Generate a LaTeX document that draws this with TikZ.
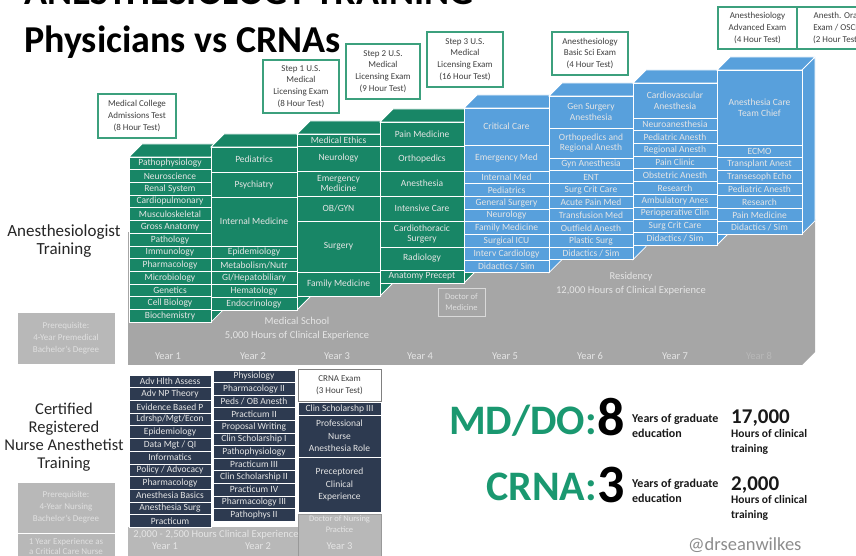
\documentclass[tikz,border=0pt]{standalone}
\usepackage{fontspec}
\setmainfont{Carlito}
\usepackage{xcolor}
\usepackage{tikz}
\usetikzlibrary{positioning}

\definecolor{mdgreen}{RGB}{24,134,102}
\definecolor{resblue}{RGB}{88,160,220}
\definecolor{crnanavy}{RGB}{45,58,80}
\definecolor{basegray}{RGB}{166,166,166}
\definecolor{lightgray}{RGB}{184,184,184}
\definecolor{examteal}{RGB}{60,160,125}
\definecolor{titleteal}{RGB}{26,152,112}
\definecolor{inktext}{RGB}{64,64,64}

% top and right faces of a 3D year block
\newcommand{\blockfaces}[5]{%
  \filldraw[fill=#5, draw=white, line width=0.8pt]
    (#1,#3) -- ++(13,-13) -- ++(#2-#1,0) -- (#2,#3) -- cycle
    (#2,#3) -- ++(13,-13) -- ++(0,#4-#3) -- (#2,#4) -- cycle;}

\tikzset{
  cell/.style={draw=white, line width=0.8pt, text=white!90!black,
    font=\fontsize{9.5}{10.5}\selectfont, align=center, inner sep=0pt},
  mdcell/.style={cell, fill=mdgreen},
  rescell/.style={cell, fill=resblue},
  crnacell/.style={cell, fill=crnanavy},
  exambox/.style={draw=examteal, line width=1.2pt, fill=white, text=inktext,
    font=\fontsize{9}{11.8}\selectfont, align=center, inner sep=1pt},
  ongray/.style={text=white!90!black, font=\fontsize{10.5}{14}\selectfont,
    align=center, inner sep=0pt},
  yearlbl/.style={text=white!90!black, font=\fontsize{10.5}{12}\selectfont, inner sep=0pt},
  prereq/.style={fill=lightgray, draw=white, line width=0.6pt, text=white!88!black,
    font=\fontsize{9}{12}\selectfont, align=center, inner sep=1pt},
  sidelbl/.style={text=black!85, font=\fontsize{17}{18}\selectfont, align=center},
  bigword/.style={text=titleteal, font=\fontsize{42}{44}\selectfont\bfseries, inner sep=0pt},
  bignum/.style={text=black, font=\fontsize{54}{56}\selectfont\bfseries, inner sep=0pt},
  statnum/.style={text=black!90, font=\fontsize{21}{22}\selectfont\bfseries, inner sep=0pt},
  stattext/.style={text=black!90, font=\fontsize{11.5}{15}\selectfont\bfseries,
    align=left, inner sep=0pt}
}

\begin{document}
\begin{tikzpicture}[x=1pt, y=-1pt]
  \useasboundingbox (0,0) rectangle (856,556);

  % Titles
  \node[anchor=base west, inner sep=0pt, font=\fontsize{38}{40}\selectfont\bfseries]
    (toptitle) at (24,5) {ANESTHESIOLOGY TRAINING};
  \node[anchor=base west, inner sep=0pt, font=\fontsize{38}{40}\selectfont\bfseries]
    (title) at (24,53) {Physicians vs CRNAs};

  % Grey base of the physician track
  \fill[basegray] (128,232) rectangle (802,365);
  \fill[basegray] (802,232) -- (815,219) -- (815,352) -- (802,365) -- cycle;

  % Year 1
  \blockfaces{129}{211}{157}{322.1}{mdgreen}
  \foreach \txt [count=\i from 0] in {Pathophysiology, Neuroscience, Renal System,
      Cardiopulmonary, Musculoskeletal, Gross Anatomy, Pathology, Immunology,
      Pharmacology, Microbiology, Genetics, Cell Biology, Biochemistry}
    \path[mdcell] (129,157+12.7*\i) rectangle node (yrone\i) {\txt} (211,169.7+12.7*\i);

  % Year 2
  \blockfaces{211}{297}{147}{310}{mdgreen}
  \foreach \yt/\yb/\txt [count=\k] in {147/172/Pediatrics, 172/197/Psychiatry,
      197/246/Internal Medicine, 246/258.8/Epidemiology, 258.8/271.6/{Metabolism/Nutr},
      271.6/284.4/{GI/Hepatobiliary}, 284.4/297.2/Hematology, 297.2/310/Endocrinology}
    \path[mdcell] (211,\yt) rectangle node (yrtwo\k) {\txt} (297,\yb);

  % Year 3
  \blockfaces{297}{380}{134}{296}{mdgreen}
  \foreach \yt/\yb/\txt [count=\k] in {134/146/Medical Ethics, 146/171/Neurology,
      171/196/{Emergency\\Medicine}, 196/221/{OB/GYN}, 221/272/Surgery,
      272/296/Family Medicine}
    \path[mdcell] (297,\yt) rectangle node (yrthree\k) {\txt} (380,\yb);

  % Year 4
  \blockfaces{380}{464}{122}{283}{mdgreen}
  \foreach \yt/\yb/\txt [count=\k] in {122/146/Pain Medicine, 146/171/Orthopedics,
      171/196/Anesthesia, 196/221/Intensive Care, 221/247/{Cardiothoracic\\Surgery},
      247/270/Radiology, 270/283/Anatomy Precept}
    \path[mdcell] (380,\yt) rectangle node (yrfour\k) {\txt} (464,\yb);

  % Year 5
  \blockfaces{464}{549}{108}{272.6}{resblue}
  \foreach \yt/\yb/\txt [count=\k] in {108/145/Critical Care, 145/171/Emergency Med}
    \path[rescell] (464,\yt) rectangle node (yrfiveh\k) {\txt} (549,\yb);
  \foreach \txt [count=\i from 0] in {Internal Med, Pediatrics, General Surgery, Neurology,
      Family Medicine, Surgical ICU, Interv Cardiology, Didactics / Sim}
    \path[rescell] (464,171+12.7*\i) rectangle node (yrfive\i) {\txt} (549,183.7+12.7*\i);

  % Year 6
  \blockfaces{549}{633}{96}{259.6}{resblue}
  \foreach \yt/\yb/\txt [count=\k] in {96/128/{Gen Surgery\\Anesthesia},
      128/158/{Orthopedics and\\Regional Anesth}}
    \path[rescell] (549,\yt) rectangle node (yrsixh\k) {\txt} (633,\yb);
  \foreach \txt [count=\i from 0] in {Gyn Anesthesia, ENT, Surg Crit Care, Acute Pain Med,
      Transfusion Med, Outfield Anesth, Plastic Surg, Didactics / Sim}
    \path[rescell] (549,158+12.7*\i) rectangle node (yrsix\i) {\txt} (633,170.7+12.7*\i);

  % Year 7
  \blockfaces{633}{717}{83}{245}{resblue}
  \path[rescell] (633,83) rectangle node (yrsevenh) {Cardiovascular\\Anesthesia} (717,118);
  \foreach \txt [count=\i from 0] in {Neuroanesthesia, Pediatric Anesth, Regional Anesth,
      Pain Clinic, Obstetric Anesth, Research, Ambulatory Anes, Perioperative Clin,
      Surg Crit Care, Didactics / Sim}
    \path[rescell] (633,118+12.7*\i) rectangle node (yrseven\i) {\txt} (717,130.7+12.7*\i);

  % Year 8
  \blockfaces{717}{802}{70}{233.9}{resblue}
  \path[rescell] (717,70) rectangle node (yreighth) {Anesthesia Care\\Team Chief} (802,145);
  \foreach \txt [count=\i from 0] in {ECMO, Transplant Anest, Transesoph Echo,
      Pediatric Anesth, Research, Pain Medicine, Didactics / Sim}
    \path[rescell] (717,145+12.7*\i) rectangle node (yreight\i) {\txt} (802,157.7+12.7*\i);

  % Exams
  \node[exambox, minimum width=78pt, minimum height=44pt] (mcat) at (137,116)
    {Medical College\\Admissions Test\\(8 Hour Test)};
  \node[exambox, minimum width=76pt, minimum height=53pt] (stepone) at (301,86.5)
    {Step 1 U.S.\\Medical\\Licensing Exam\\(8 Hour Test)};
  \node[exambox, minimum width=74pt, minimum height=55pt] (steptwo) at (383,71.5)
    {Step 2 U.S.\\Medical\\Licensing Exam\\(9 Hour Test)};
  \node[exambox, minimum width=76pt, minimum height=55pt] (stepthree) at (465,59.5)
    {Step 3 U.S.\\Medical\\Licensing Exam\\(16 Hour Test)};
  \node[exambox, minimum width=76pt, minimum height=43pt] (basicsci) at (590,53.5)
    {Anesthesiology\\Basic Sci Exam\\(4 Hour Test)};
  \node[exambox, minimum width=79pt, minimum height=42pt] (advanced) at (757.5,28)
    {Anesthesiology\\Advanced Exam\\(4 Hour Test)};
  \node[exambox, minimum width=79pt, minimum height=42pt] (oral) at (836.5,28)
    {Anesth. Oral\\Exam / OSCE\\(2 Hour Test)};

  % Labels on the grey base
  \node[draw=white!85!black, line width=1pt, fill=basegray, text=white!88!black,
    font=\fontsize{8.5}{11}\selectfont, align=center, minimum width=47pt,
    minimum height=28pt, inner sep=0pt] (mdegree) at (461.5,302) {Doctor of\\Medicine};
  \node[ongray] (medschool) at (297,329) {Medical School\\5,000 Hours of Clinical Experience};
  \node[ongray] (residency) at (631,284) {Residency\\12,000 Hours of Clinical Experience};
  \foreach \xx [count=\n] in {168,253,337,420,505,590,675}
    \node[yearlbl] (mdyear\n) at (\xx,356) {Year \n};
  \node[yearlbl, text=white!72!black] (mdyear8) at (759,356) {Year 8};

  % Left side labels
  \node[sidelbl] (mdlbl) at (64,241) {Anesthesiologist\\Training};
  \node[prereq, minimum width=98pt, minimum height=52pt] (mdprereq) at (66,338)
    {Prerequisite:\\4-Year Premedical\\Bachelor's Degree};
  \node[sidelbl, font=\fontsize{16.5}{17.8}\selectfont] (crnalbl) at (64,437)
    {Certified\\Registered\\Nurse Anesthetist\\Training};
  \node[prereq, minimum width=98pt, minimum height=51pt] (crnaprereq) at (66,507.5)
    {Prerequisite:\\4-Year Nursing\\Bachelor's Degree};
  \node[prereq, font=\fontsize{9}{10.5}\selectfont, minimum width=98pt,
    minimum height=27pt] (icuyear) at (66,546.5)
    {1 Year Experience as\\a Critical Care Nurse};

  % CRNA base
  \fill[lightgray] (128,527) rectangle (298,570);
  \filldraw[fill=lightgray, draw=white!60!black, line width=0.6pt] (298,514) rectangle (381,570);
  \node[ongray, font=\fontsize{8.5}{10.5}\selectfont] (dnp) at (339.5,524) {Doctor of Nursing\\Practice};
  \node[ongray, font=\fontsize{10.5}{11}\selectfont] (crnahours) at (216,535)
    {2,000 - 2,500 Hours Clinical Experience};
  \node[yearlbl] (crnayear1) at (165,546) {Year 1};
  \node[yearlbl] (crnayear2) at (258,546) {Year 2};
  \node[yearlbl] (crnayear3) at (339.5,546) {Year 3};

  % CRNA year 1
  \foreach \txt [count=\i from 0] in {Adv Hlth Assess, Adv NP Theory, Evidence Based P,
      Ldrshp/Mgt/Econ, Epidemiology, Data Mgt / QI, Informatics, Policy / Advocacy,
      Pharmacology, Anesthesia Basics, Anesthesia Surg, Practicum}
    \path[crnacell] (129,375+12.7*\i) rectangle node (crone\i) {\txt} (211,387.7+12.7*\i);

  % CRNA year 2
  \foreach \txt [count=\i from 0] in {Physiology, Pharmacology II, Peds / OB Anesth,
      Practicum II, Proposal Writing, Clin Scholarship I, Pathophysiology, Practicum III,
      Clin Scholarship II, Practicum IV, Pharmacology III, Pathophys II}
    \path[crnacell] (213,370+12.6*\i) rectangle node (crtwo\i) {\txt} (295,382.6+12.6*\i);

  % CRNA year 3
  \node[draw=white!50!black, line width=1pt, fill=white, text=inktext, align=center,
    font=\fontsize{9}{11.8}\selectfont, minimum width=83pt, minimum height=32pt,
    inner sep=0pt] (crnaexam) at (339.5,385) {CRNA Exam\\(3 Hour Test)};
  \foreach \yt/\yb/\txt [count=\k] in {402/415/Clin Scholarshp III,
      415/457/{Professional\\Nurse\\Anesthesia Role},
      457/512/{Preceptored\\Clinical\\Experience}}
    \path[crnacell, font=\fontsize{9.5}{12.5}\selectfont] (298,\yt) rectangle node (crthree\k) {\txt} (381,\yb);

  % Totals
  \node[bigword, anchor=base east] (mddo) at (597,434) {MD/DO:};
  \node[bignum, anchor=base west] (mdnum) at (597,435) {8};
  \node[stattext, font=\fontsize{12}{15}\selectfont\bfseries, anchor=west] (mdgrad) at (632,425.5)
    {Years of graduate\\education};
  \node[statnum, anchor=base west] (mdhours) at (731,423) {17,000};
  \node[stattext, anchor=west] (mdclin) at (731,441.5) {Hours of clinical\\training};

  \node[bigword, anchor=base east] (crna) at (597,500) {CRNA:};
  \node[bignum, anchor=base west] (crnanum) at (597,502) {3};
  \node[stattext, font=\fontsize{12}{15}\selectfont\bfseries, anchor=west] (crnagrad) at (632,490.5)
    {Years of graduate\\education};
  \node[statnum, anchor=base west] (crnahrs) at (731,490) {2,000};
  \node[stattext, anchor=west] (crnaclin) at (731,508) {Hours of clinical\\training};

  \node[anchor=west, inner sep=0pt, text=black!45, font=\fontsize{18.5}{20}\selectfont]
    (handle) at (688,545) {@drseanwilkes};

\end{tikzpicture}
\end{document}
